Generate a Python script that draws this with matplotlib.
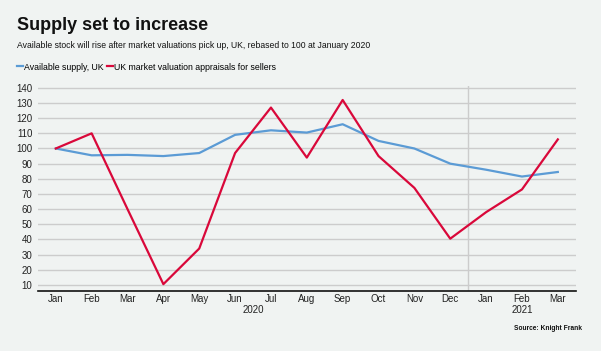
import matplotlib.pyplot as plt
from matplotlib.lines import Line2D

plt.rcParams['font.family'] = ['Liberation Sans', 'DejaVu Sans']

months = ['Jan', 'Feb', 'Mar', 'Apr', 'May', 'Jun', 'Jul', 'Aug', 'Sep', 'Oct', 'Nov', 'Dec',
          'Jan', 'Feb', 'Mar']
supply = [100, 95.5, 95.8, 95, 97, 109, 112, 110.5, 116, 105, 100, 90, 86, 81.5, 84.5]
valuations = [100, 110, 60, 10.5, 34, 97, 127, 94, 132, 95, 74, 40.5, 58, 73, 106]
yticks = list(range(10, 150, 10))

bg = '#f0f3f2'
blue = '#5b9bd5'
red = '#d9083a'

fig = plt.figure(figsize=(6.01, 3.51), dpi=100, facecolor=bg)
ax = fig.add_axes([0.063, 0.171, 0.895, 0.583], facecolor=bg)

x = list(range(len(months)))
ax.plot(x, supply, color=blue, lw=1.6, zorder=3)
ax.plot(x, valuations, color=red, lw=1.6, zorder=3)

ax.set_xlim(-0.5, 14.5)
ax.set_ylim(6, 141)
ax.set_yticks(yticks)
ax.set_xticks(x)
ax.set_xticklabels(months)
ax.tick_params(axis='both', length=0, labelsize=7, colors='#222222')
ax.tick_params(axis='x', pad=2.5)
ax.tick_params(axis='y', pad=4)
ax.grid(axis='y', color='#cccccc', lw=1)
ax.axvline(11.5, color='#cccccc', lw=1)
for s in ['top', 'right', 'left']:
    ax.spines[s].set_visible(False)
ax.spines['bottom'].set_color('#111111')
ax.spines['bottom'].set_linewidth(1.2)

# year labels
ax.text(5.5, -0.068, '2020', transform=ax.get_xaxis_transform(), ha='center', va='top',
        fontsize=7, color='#222222')
ax.text(13, -0.068, '2021', transform=ax.get_xaxis_transform(), ha='center', va='top',
        fontsize=7, color='#222222')

fig.text(17 / 601, 1 - 26 / 351, 'Supply set to increase', fontsize=13, fontweight='bold',
         va='center', ha='left', color='#111111')
fig.text(17 / 601, 1 - 46 / 351,
         'Available stock will rise after market valuations pick up, UK, rebased to 100 at January 2020',
         fontsize=6.2, va='center', ha='left', color='#111111')

handles = [Line2D([], [], color=blue, lw=1.6), Line2D([], [], color=red, lw=1.6)]
fig.legend(handles, ['Available supply, UK', 'UK market valuation appraisals for sellers'],
           loc='center left', bbox_to_anchor=(17 / 601, 1 - 67 / 351), ncol=2, frameon=False,
           fontsize=6.3, handlelength=0.7, handletextpad=0.1, columnspacing=0.4,
           borderaxespad=0, borderpad=0)

fig.text(582 / 601, 1 - 328 / 351, 'Source: Knight Frank', fontsize=4.8, fontweight='bold',
         ha='right', va='center', color='#111111')

fig.savefig('out.png', dpi=100, facecolor=bg)
